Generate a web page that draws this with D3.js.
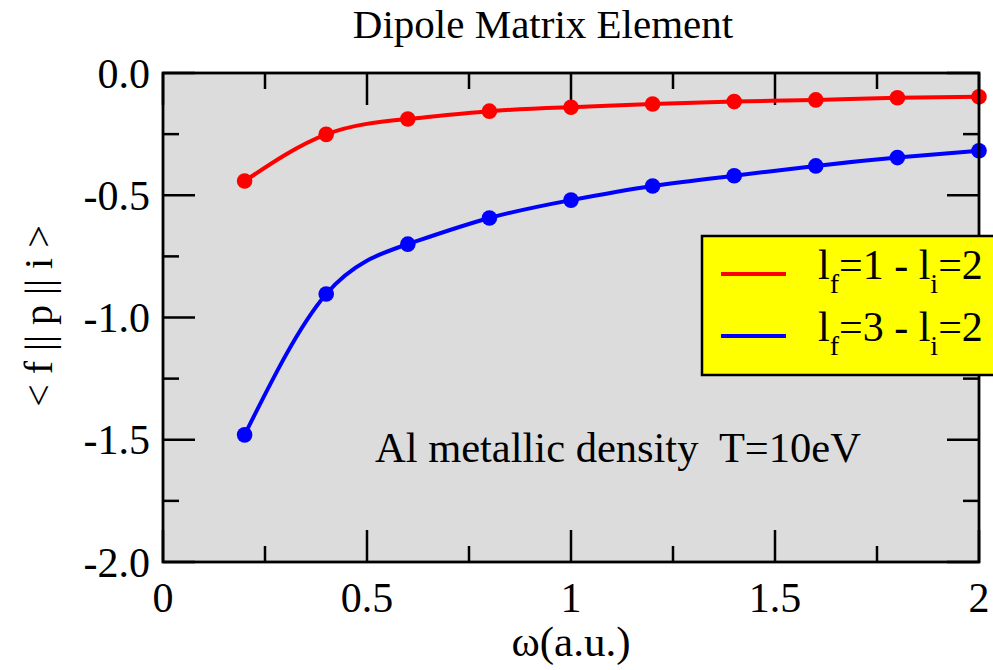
<!DOCTYPE html>
<html><head><meta charset="utf-8">
<script src="https://cdn.jsdelivr.net/npm/d3@7"></script>
<style>body{margin:0;background:#fff}svg{display:block}text{font-family:"Liberation Serif","Times New Roman",serif;fill:#000}</style>
</head><body>
<svg id="c" width="993" height="670"></svg>
<script>
const omega = [0.2,0.4,0.6,0.8,1.0,1.2,1.4,1.6,1.8,2.0];
const red = [-0.442,-0.251,-0.188,-0.156,-0.140,-0.127,-0.117,-0.110,-0.101,-0.097];
const blue = [-1.48,-0.904,-0.700,-0.593,-0.520,-0.462,-0.420,-0.380,-0.346,-0.318];
const xTicks = [0,0.5,1,1.5,2];
const xTickLabels = ["0","0.5","1","1.5","2"];
const yTicks = [0,-0.5,-1,-1.5,-2];
const yTickLabels = ["0.0","-0.5","-1.0","-1.5","-2.0"];
const xMinor = [0.25,0.75,1.25,1.75];
const yMinor = [-0.25,-0.75,-1.25,-1.75];
const series = [
  {name:"red", values:red, color:"#ff0000", sup:"1"},
  {name:"blue", values:blue, color:"#0000ff", sup:"3"}
];

const svg = d3.select("#c");
const L=163, R=979, T=73, B=562;
const x = d3.scaleLinear().domain([0,2]).range([L,R]);
const y = d3.scaleLinear().domain([-2,0]).range([B,T]);

svg.append("rect").attr("x",L).attr("y",T).attr("width",R-L).attr("height",B-T).attr("fill","#dcdcdc");

// ticks (inside, all four sides)
const tg = svg.append("g").attr("stroke","#000").attr("stroke-width",2.5);
xTicks.forEach(v=>{ tg.append("line").attr("x1",x(v)).attr("x2",x(v)).attr("y1",B).attr("y2",B-32);
  tg.append("line").attr("x1",x(v)).attr("x2",x(v)).attr("y1",T).attr("y2",T+32);});
xMinor.forEach(v=>{ tg.append("line").attr("x1",x(v)).attr("x2",x(v)).attr("y1",B).attr("y2",B-16);
  tg.append("line").attr("x1",x(v)).attr("x2",x(v)).attr("y1",T).attr("y2",T+16);});
yTicks.forEach(v=>{ tg.append("line").attr("y1",y(v)).attr("y2",y(v)).attr("x1",L).attr("x2",L+32);
  tg.append("line").attr("y1",y(v)).attr("y2",y(v)).attr("x1",R).attr("x2",R-32);});
yMinor.forEach(v=>{ tg.append("line").attr("y1",y(v)).attr("y2",y(v)).attr("x1",L).attr("x2",L+16);
  tg.append("line").attr("y1",y(v)).attr("y2",y(v)).attr("x1",R).attr("x2",R-16);});

// series
const line = d3.line().x(d=>x(d[0])).y(d=>y(d[1])).curve(d3.curveNatural);
series.forEach(s=>{
  const pts = omega.map((o,i)=>[o,s.values[i]]);
  svg.append("path").attr("d",line(pts)).attr("fill","none").attr("stroke",s.color).attr("stroke-width",4);
  svg.selectAll(null).data(pts).enter().append("circle").attr("cx",d=>x(d[0])).attr("cy",d=>y(d[1])).attr("r",7.8).attr("fill",s.color);
});

// frame
svg.append("rect").attr("x",L).attr("y",T).attr("width",R-L).attr("height",B-T).attr("fill","none").attr("stroke","#000").attr("stroke-width",2.8);

// tick labels
xTicks.forEach((v,i)=>svg.append("text").attr("x",x(v)).attr("y",612).attr("text-anchor","middle").attr("font-size",42).text(xTickLabels[i]));
yTicks.forEach((v,i)=>svg.append("text").attr("x",150).attr("y",y(v)+14.5).attr("text-anchor","end").attr("font-size",42).text(yTickLabels[i]));

// titles
svg.append("text").attr("x",543).attr("y",38).attr("text-anchor","middle").attr("font-size",41).text("Dipole Matrix Element");
svg.append("text").attr("x",571).attr("y",656).attr("text-anchor","middle").attr("font-size",43).text("ω(a.u.)");
svg.append("text").attr("transform","translate(52,316) rotate(-90)").attr("text-anchor","middle").attr("font-size",40).text("< f || p || i >");
svg.append("text").attr("x",375).attr("y",462).attr("font-size",42.5).attr("xml:space","preserve").text("Al metallic density  T=10eV");

// legend
svg.append("rect").attr("x",702).attr("y",236).attr("width",300).attr("height",139).attr("fill","#ffff00").attr("stroke","#000").attr("stroke-width",2.5);
series.forEach((s,i)=>{
  const yy = 274 + i*62;
  svg.append("line").attr("x1",721).attr("x2",786).attr("y1",yy).attr("y2",yy).attr("stroke",s.color).attr("stroke-width",4);
  const t = svg.append("text").attr("x",818).attr("y",yy+5).attr("font-size",42);
  t.append("tspan").text("l");
  t.append("tspan").attr("font-size",28).attr("dy",14).text("f");
  t.append("tspan").attr("dy",-14).text("="+s.sup+" - l");
  t.append("tspan").attr("font-size",28).attr("dy",14).text("i");
  t.append("tspan").attr("dy",-14).text("=2");
});
</script>
</body></html>
